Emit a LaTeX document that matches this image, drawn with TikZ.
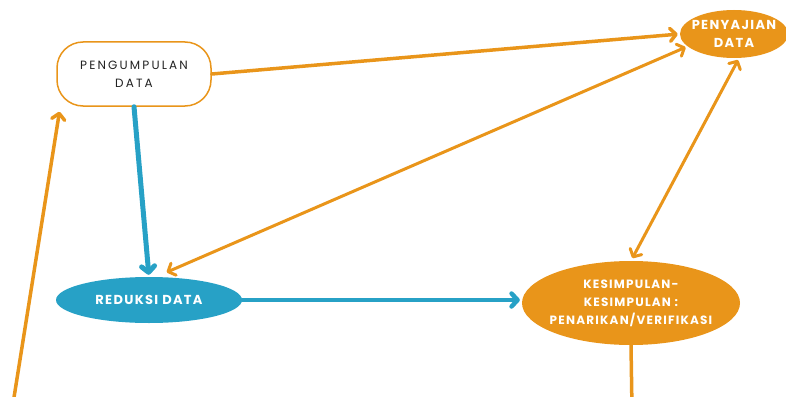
\documentclass[tikz,border=0pt]{standalone}
\usepackage{fontspec}
\setmainfont{Poppins}
\newfontfamily\widefont{Poppins}[LetterSpace=18]
\newfontfamily\ovalfont{Poppins}[LetterSpace=10]
\usetikzlibrary{arrows.meta,shapes.geometric}
\definecolor{orng}{HTML}{E9951A}
\definecolor{blu}{HTML}{27A1C6}
\definecolor{txt}{HTML}{222222}
\tikzset{
  oval/.style={ellipse, inner xsep=-8pt, inner ysep=0pt, text=white, font=\ovalfont\bfseries\fontsize{13}{18}\selectfont, align=center},
  orangeline/.style={draw=orng, line width=3pt, line cap=round},
  blueline/.style={draw=blu, line width=4.5pt, line cap=round},
  >={Straight Barb[length=6pt,width=13pt,round]}
}
\begin{document}
\begin{tikzpicture}[x=1pt,y=1pt,yscale=-1]
  \useasboundingbox (0,0) rectangle (786,396);

  % boxes
  \node[draw=orng, line width=1.5pt, fill=white, rounded corners=26pt, minimum width=154pt, minimum height=64pt,
        text=txt, font=\widefont\fontsize{12}{18}\selectfont, align=center] (pengumpulan) at (134,74) {PENGUMPULAN\\DATA};
  \node[oval, fill=orng, minimum width=108pt, minimum height=48pt] (penyajian) at (734,34) {PENYAJIAN\\DATA};
  \node[oval, fill=blu, minimum width=186pt, minimum height=46pt] (reduksi) at (149,300) {REDUKSI DATA};
  \node[oval, fill=orng, minimum width=218pt, minimum height=84pt, font=\ovalfont\bfseries\fontsize{12}{18}\selectfont]
        (kesimpulan) at (631,303) {KESIMPULAN-\\KESIMPULAN :\\PENARIKAN/VERIFIKASI};

  \coordinate (leftfoot) at (12,410);
  \coordinate (bottomend) at (632,410);

  % connectors
  \draw[orangeline,line width=3.5pt,->,shorten >=2pt] (pengumpulan.east) -- (penyajian.west);
  \draw[blueline,line width=5pt,->,shorten >=2pt] (pengumpulan.south) -- (reduksi.north);
  \draw[blueline,->,shorten >=2pt] (reduksi.east) -- (reduksi.east -| kesimpulan.west);
  \draw[orangeline,<->,shorten <=4pt,shorten >=2pt] ([xshift=14pt,yshift=-3pt]reduksi.north) -- (penyajian.195);
  \draw[orangeline,<->,shorten <=3pt,shorten >=2pt] (kesimpulan.north) -- ([xshift=5pt]penyajian.south);
  \draw[orangeline,line width=3.5pt] (kesimpulan.south) -- (bottomend);
  \draw[orangeline,line width=3.5pt,->,shorten >=5pt] (leftfoot) -- ([xshift=4pt]pengumpulan.south west);
\end{tikzpicture}
\end{document}
